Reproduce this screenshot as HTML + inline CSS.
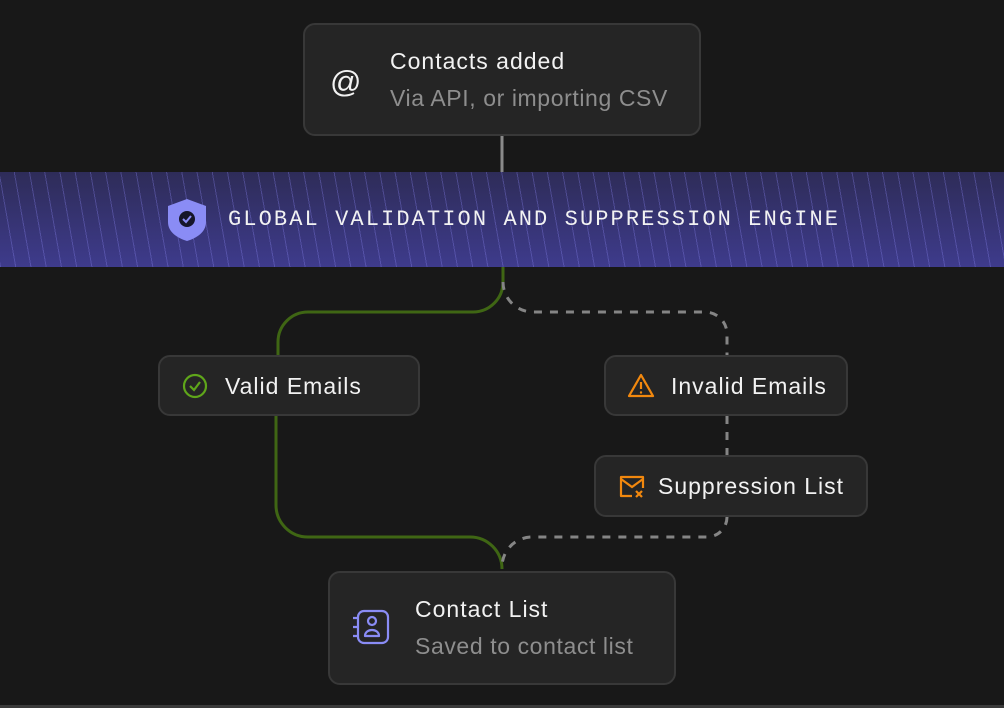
<!DOCTYPE html>
<html><head><meta charset="utf-8"><style>
html,body{margin:0;padding:0;}
body{width:1004px;height:708px;background:#181818;position:relative;overflow:hidden;font-family:"Liberation Sans",sans-serif;}
.n{position:absolute;background:#252525;border:2px solid #383838;border-radius:12px;box-sizing:border-box;}
.t{position:absolute;color:#f2f2f2;font-size:23px;letter-spacing:1px;white-space:nowrap;}
.s{position:absolute;color:#8e8e8e;font-size:23px;letter-spacing:0.6px;white-space:nowrap;}
.band{position:absolute;left:0;top:172px;width:1004px;height:95px;
background:repeating-linear-gradient(80deg,rgba(130,125,230,0.35) 0 1px,transparent 1px 15px),linear-gradient(#2e2c58,#3e3b8c);}
.bt{position:absolute;left:228px;top:207px;font-family:"Liberation Mono",monospace;font-size:22px;color:#f2f2f2;letter-spacing:2.1px;white-space:nowrap;}
svg{position:absolute;left:0;top:0;}
</style></head><body>
<div class="band"></div>
<div class="bt">GLOBAL VALIDATION AND SUPPRESSION ENGINE</div>
<svg width="1004" height="708">
<line x1="502" y1="136" x2="502" y2="172" stroke="#8a8a8a" stroke-width="3"/>
<path d="M503 267 V282 A30 30 0 0 1 473 312 H308 A30 30 0 0 0 278 342 V356" fill="none" stroke="#3f6614" stroke-width="3"/>
<path d="M276 416 V505 A32 32 0 0 0 308 537 H470 A32 32 0 0 1 502 569" fill="none" stroke="#3f6614" stroke-width="3"/>
<path d="M503 282 A30 30 0 0 0 533 312 H705 A22 22 0 0 1 727 334 V356" fill="none" stroke="#858585" stroke-width="3" stroke-dasharray="8 8"/>
<path d="M727 416 V455" fill="none" stroke="#858585" stroke-width="3" stroke-dasharray="8 8"/>
<path d="M727 517 A20 20 0 0 1 707 537 H532 A30 30 0 0 0 502 567" fill="none" stroke="#858585" stroke-width="3" stroke-dasharray="8 8"/>
<rect x="0" y="705" width="1004" height="3" fill="#3a3a3a"/>
<path d="M187 199 L206 206 V222 C206 232 197 238 187 241 C177 238 168 232 168 222 V206 Z" fill="#8a8cf5"/>
<circle cx="187" cy="219" r="8" fill="#16162a"/>
<path d="M183 219 L186 222 L191 216" fill="none" stroke="#8a8cf5" stroke-width="2"/>
</svg>
<div class="n" style="left:303px;top:23px;width:398px;height:113px"></div>
<div class="t" style="left:330px;top:64px;font-size:31px;letter-spacing:0">@</div>
<div class="t" style="left:390px;top:48px">Contacts added</div>
<div class="s" style="left:390px;top:85px">Via API, or importing CSV</div>
<div class="n" style="left:158px;top:355px;width:262px;height:61px"></div>
<svg width="1004" height="708"><circle cx="195" cy="386" r="11" fill="none" stroke="#5fa61a" stroke-width="2.2"/><path d="M190 386 L194 390 L200 382" fill="none" stroke="#5fa61a" stroke-width="2.2"/></svg>
<div class="t" style="left:225px;top:373px">Valid Emails</div>
<div class="n" style="left:604px;top:355px;width:244px;height:61px"></div>
<svg width="1004" height="708"><path d="M641 375 L653 396 H629 Z" fill="none" stroke="#f2880e" stroke-width="2.2" stroke-linejoin="round"/><line x1="641" y1="382" x2="641" y2="389" stroke="#f2880e" stroke-width="2.2"/><circle cx="641" cy="392.5" r="1.2" fill="#f2880e"/></svg>
<div class="t" style="left:671px;top:373px">Invalid Emails</div>
<div class="n" style="left:594px;top:455px;width:274px;height:62px"></div>
<svg width="1004" height="708"><path d="M632 496 H621 V477 H643 V488" fill="none" stroke="#f2880e" stroke-width="2.2" stroke-linejoin="round"/><path d="M621 479 L632 487 L643 479" fill="none" stroke="#f2880e" stroke-width="2.2"/><path d="M636 491 L642 497 M642 491 L636 497" stroke="#f2880e" stroke-width="2.2"/></svg>
<div class="t" style="left:658px;top:473px">Suppression List</div>
<div class="n" style="left:328px;top:571px;width:348px;height:114px"></div>
<svg width="1004" height="708"><rect x="358" y="611" width="30" height="32" rx="6" fill="none" stroke="#8a8cf5" stroke-width="2.2"/><circle cx="372" cy="621" r="4" fill="none" stroke="#8a8cf5" stroke-width="2.2"/><path d="M365 636 C365 628 379 628 379 636 Z" fill="none" stroke="#8a8cf5" stroke-width="2.2" stroke-linejoin="round"/><path d="M353 618 H358 M353 627 H358 M353 636 H358" stroke="#8a8cf5" stroke-width="2.2"/></svg>
<div class="t" style="left:415px;top:596px">Contact List</div>
<div class="s" style="left:415px;top:633px">Saved to contact list</div>
</body></html>
